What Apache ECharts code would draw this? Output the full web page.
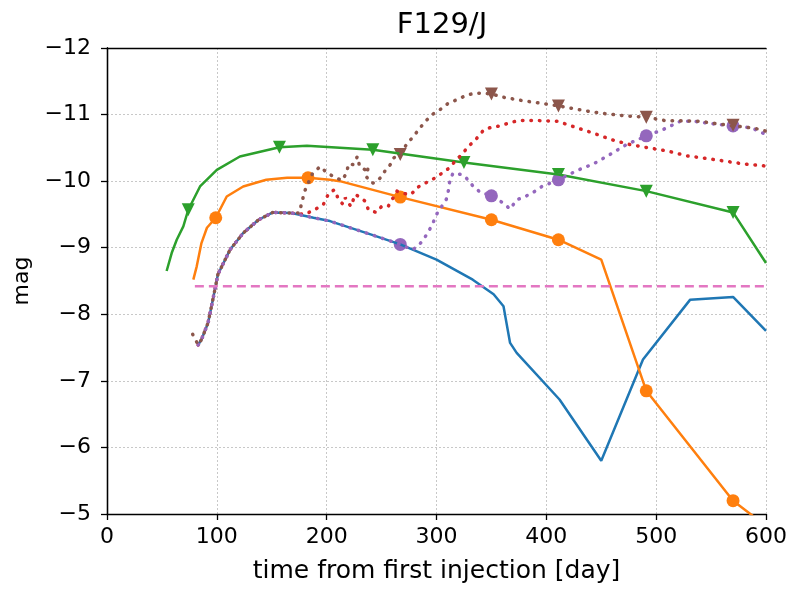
<!DOCTYPE html>
<html><head><meta charset="utf-8">
<script src="https://cdn.jsdelivr.net/npm/echarts@6/dist/echarts.min.js"></script>
<style>html,body{margin:0;padding:0;background:#fff}#c{width:794px;height:589px}</style>
</head><body><div id="c"></div>
<script>
// tick values
const xTicks = [0, 100, 200, 300, 400, 500, 600];
const yTicks = [-12, -11, -10, -9, -8, -7, -6, -5];

// blue (solid)
const blueX = [83, 86, 92, 97, 101, 112, 124, 138, 151, 168, 188, 203, 212, 240, 267, 300, 333, 352, 361, 367, 373, 412, 450, 488, 531, 570, 600];
const blueY = [-7.54, -7.62, -7.87, -8.27, -8.60, -8.97, -9.22, -9.42, -9.53, -9.52, -9.45, -9.40, -9.35, -9.20, -9.05, -8.82, -8.52, -8.30, -8.12, -7.57, -7.42, -6.72, -5.80, -7.32, -8.22, -8.26, -7.75];

// orange (solid, circles)
const orangeX = [78.6, 81.7, 86, 91, 99, 109, 124, 145, 164, 183, 203, 212, 267, 350, 411, 450, 491, 570, 600];
const orangeY = [-8.52, -8.72, -9.07, -9.30, -9.45, -9.77, -9.92, -10.02, -10.05, -10.05, -10.02, -10.00, -9.76, -9.42, -9.12, -8.82, -6.85, -5.20, -4.82];
const orangeMarkX = [99, 183, 267, 350, 411, 491, 570];
const orangeMarkY = [-9.45, -10.05, -9.76, -9.42, -9.12, -6.85, -5.20];

// green (solid, down triangles)
const greenX = [54.3, 58.9, 63.5, 69.5, 74, 84.7, 100, 121, 157, 182, 212, 242, 325, 411, 491, 570, 600];
const greenY = [-8.65, -8.92, -9.12, -9.32, -9.57, -9.92, -10.17, -10.37, -10.51, -10.53, -10.50, -10.47, -10.28, -10.10, -9.85, -9.53, -8.77];
const greenMarkX = [74, 157, 242, 325, 411, 491, 570];
const greenMarkY = [-9.57, -10.51, -10.47, -10.28, -10.10, -9.85, -9.53];

// red (dotted)
const redX = [83, 86, 92, 97, 101, 112, 124, 138, 151, 168, 180, 189, 197, 202, 207, 211, 215, 217, 222, 226, 229, 235, 238, 245, 250, 256, 264, 268, 277, 282, 291, 299, 305, 311, 317, 323, 329, 336, 343, 350, 358, 367, 375, 392, 410, 419, 428, 443, 460, 476, 493, 511, 528, 546, 563, 579, 598, 600];
const redY = [-7.54, -7.62, -7.87, -8.27, -8.60, -8.97, -9.22, -9.42, -9.53, -9.52, -9.50, -9.57, -9.65, -9.82, -9.87, -9.72, -9.65, -9.75, -9.62, -9.80, -9.77, -9.70, -9.57, -9.53, -9.62, -9.62, -9.85, -9.82, -9.80, -9.90, -9.98, -10.05, -10.12, -10.19, -10.30, -10.40, -10.52, -10.63, -10.77, -10.81, -10.83, -10.88, -10.91, -10.91, -10.90, -10.85, -10.80, -10.72, -10.62, -10.55, -10.50, -10.45, -10.38, -10.34, -10.30, -10.26, -10.23, -10.22];

// purple (dotted, circles)
const purpleX = [83, 86, 92, 97, 101, 112, 124, 138, 151, 168, 188, 203, 212, 240, 267, 278, 283, 288, 293, 297, 300, 304, 309, 311, 312, 315, 323, 327, 333, 340, 350, 361, 367, 373, 381, 388, 396, 411, 428, 443, 458, 473, 491, 507, 522, 534, 552, 570, 587, 600];
const purpleY = [-7.54, -7.62, -7.87, -8.27, -8.60, -8.97, -9.22, -9.42, -9.53, -9.52, -9.45, -9.40, -9.35, -9.20, -9.05, -8.97, -9.02, -9.12, -9.25, -9.38, -9.50, -9.60, -9.73, -9.87, -10.00, -10.12, -10.10, -10.05, -9.93, -9.83, -9.78, -9.67, -9.58, -9.72, -9.77, -9.83, -9.92, -10.02, -10.16, -10.26, -10.40, -10.55, -10.68, -10.78, -10.90, -10.90, -10.86, -10.83, -10.80, -10.70];
const purpleMarkX = [267, 350, 411, 491, 570];
const purpleMarkY = [-9.05, -9.78, -10.02, -10.68, -10.83];

// brown (dotted, down triangles)
const brownX = [78, 83, 86, 92, 97, 101, 112, 124, 138, 151, 168, 175, 178, 180, 184, 187, 194, 200, 206, 214, 218, 220, 224, 228, 230, 235, 238, 236, 240, 243, 249, 253, 258, 261, 267, 273, 279, 284, 290, 296, 303, 310, 318, 326, 334, 342, 350, 361, 378, 395, 411, 421, 438, 455, 473, 491, 508, 540, 552, 570, 582, 594, 600];
const brownY = [-7.70, -7.54, -7.62, -7.87, -8.27, -8.60, -8.97, -9.22, -9.42, -9.53, -9.52, -9.52, -9.72, -9.85, -10.00, -10.11, -10.22, -10.13, -10.07, -10.01, -10.12, -10.26, -10.25, -10.37, -10.22, -10.17, -10.22, -10.07, -9.98, -9.97, -10.05, -10.15, -10.25, -10.35, -10.40, -10.56, -10.67, -10.78, -10.90, -11.00, -11.07, -11.16, -11.22, -11.28, -11.32, -11.32, -11.31, -11.26, -11.21, -11.17, -11.13, -11.10, -11.05, -11.01, -10.98, -10.96, -10.91, -10.90, -10.87, -10.83, -10.81, -10.78, -10.75];
const brownMarkX = [267, 350, 411, 491, 570];
const brownMarkY = [-10.40, -11.31, -11.13, -10.96, -10.84];

// pink dashed threshold
const pinkX = [80, 600];
const pinkY = [-8.42, -8.42];

const zip = (xs, ys) => xs.map((x, i) => [x, ys[i]]);
const FONT = 'DejaVu Sans';
const dotted = { type: [0.5, 8], cap: 'round', width: 3.5 };

function line(xs, ys, color, style) {
  return {
    type: 'line', data: zip(xs, ys), showSymbol: false, symbol: 'none',
    lineStyle: Object.assign({ color: color, width: 2.5 }, style || {}),
    animation: false, clip: true
  };
}
function marks(xs, ys, color, sym, size, rot) {
  return {
    type: 'scatter', data: zip(xs, ys), symbol: sym, symbolSize: size,
    symbolRotate: rot || 0, itemStyle: { color: color, opacity: 1 },
    animation: false, clip: true
  };
}

const chart = echarts.init(document.getElementById('c'), null, { renderer: 'canvas' });
const fmt = v => String(v).replace('-', '\u2212');
const spine = { show: true, lineStyle: { color: '#000', width: 1.3 } };
const tick = { show: true, inside: false, length: 6, lineStyle: { color: '#000', width: 1.3 } };
const grid = { show: true, lineStyle: { color: '#c8c8c8', type: [2, 2], width: 1 } };
chart.setOption({
  backgroundColor: '#fff',
  title: {
    text: 'F129/J', left: 437, top: 6, textAlign: 'center',
    textStyle: { fontFamily: FONT, fontSize: 29, fontWeight: 'normal', color: '#000' }
  },
  grid: { left: 107, right: 28, top: 48, bottom: 74, show: false, containLabel: false },
  xAxis: [{
    type: 'value', min: 0, max: 600, interval: 100, position: 'bottom',
    name: 'time from first injection [day]', nameLocation: 'middle', nameGap: 45,
    nameTextStyle: { fontFamily: FONT, fontSize: 25, color: '#000' },
    axisLine: spine, axisTick: tick,
    axisLabel: { fontFamily: FONT, fontSize: 22, color: '#000', margin: 12, formatter: fmt },
    splitLine: grid
  }, {
    type: 'value', min: 0, max: 600, interval: 100, position: 'top',
    axisLine: spine, axisTick: { show: false }, axisLabel: { show: false }, splitLine: { show: false }
  }],
  yAxis: [{
    type: 'value', min: -12, max: -5, interval: 1, inverse: true, position: 'left',
    name: 'mag', nameLocation: 'middle', nameGap: 72, nameRotate: 90,
    nameTextStyle: { fontFamily: FONT, fontSize: 22, color: '#000' },
    axisLine: spine, axisTick: tick,
    axisLabel: { fontFamily: FONT, fontSize: 22, color: '#000', margin: 16, formatter: fmt },
    splitLine: grid
  }, {
    type: 'value', min: -12, max: -5, interval: 1, inverse: true, position: 'right',
    axisLine: spine, axisTick: { show: false }, axisLabel: { show: false }, splitLine: { show: false }
  }],
  series: [
    line(blueX, blueY, '#1f77b4'),
    line(orangeX, orangeY, '#ff7f0e'),
    marks(orangeMarkX, orangeMarkY, '#ff7f0e', 'circle', 13),
    line(greenX, greenY, '#2ca02c'),
    marks(greenMarkX, greenMarkY, '#2ca02c', 'triangle', 13, 180),
    line(redX, redY, '#d62728', dotted),
    line(purpleX, purpleY, '#9467bd', dotted),
    marks(purpleMarkX, purpleMarkY, '#9467bd', 'circle', 13),
    line(brownX, brownY, '#8c564b', dotted),
    marks(brownMarkX, brownMarkY, '#8c564b', 'triangle', 13, 180),
    line(pinkX, pinkY, '#e377c2', { type: [9, 5], width: 2.5 })
  ]
});
</script></body></html>
